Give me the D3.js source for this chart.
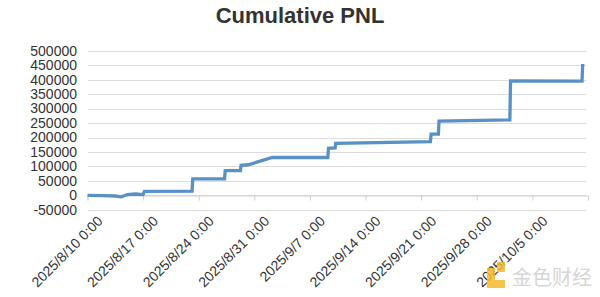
<!DOCTYPE html>
<html>
<head>
<meta charset="utf-8">
<script src="https://cdn.jsdelivr.net/npm/d3@7"></script>
<style>
  body { margin: 0; background: #fff; }
  svg { display: block; font-family: "Liberation Sans", Arial, sans-serif; }
</style>
</head>
<body>
<div class="chart"></div>
<script>
let w = 600;
let h = 297;

// cumulative pnl points
const times = [
  "2025-08-10 00:00", "2025-08-12 00:00", "2025-08-13 12:00", "2025-08-14 06:00",
  "2025-08-15 00:00", "2025-08-16 00:00", "2025-08-17 00:00", "2025-08-17 04:00",
  "2025-08-23 04:00", "2025-08-23 06:00", "2025-08-27 06:00", "2025-08-27 08:00",
  "2025-08-29 06:00", "2025-08-29 08:00", "2025-08-30 06:00", "2025-09-02 06:00",
  "2025-09-09 06:00", "2025-09-09 08:00", "2025-09-10 04:00", "2025-09-10 06:00",
  "2025-09-22 04:00", "2025-09-22 06:00", "2025-09-23 04:00", "2025-09-23 06:00",
  "2025-10-02 04:00", "2025-10-02 06:00", "2025-10-11 06:00", "2025-10-11 08:00"
];
const pnl = [
  0, -500, -2000, -5000,
  3000, 5000, 3000, 14000,
  15000, 57000, 57000, 86000,
  86000, 104000, 106000, 131000,
  131000, 163000, 164000, 180000,
  186000, 212000, 212000, 257000,
  261000, 396000, 395000, 454000
];
const yTicks = [-50000, 0, 50000, 100000, 150000, 200000, 250000, 300000, 350000, 400000, 450000, 500000];
const xTicks = ["2025-08-10", "2025-08-17", "2025-08-24", "2025-08-31", "2025-09-07",
                "2025-09-14", "2025-09-21", "2025-09-28", "2025-10-05", "2025-10-12"];
const xLabels = ["2025/8/10 0:00", "2025/8/17 0:00", "2025/8/24 0:00", "2025/8/31 0:00", "2025/9/7 0:00",
                 "2025/9/14 0:00", "2025/9/21 0:00", "2025/9/28 0:00", "2025/10/5 0:00", ""];

let parse = d3.timeParse("%Y-%m-%d %H:%M");
let parseDay = d3.timeParse("%Y-%m-%d");
let data = times.map((t, i) => ({ t: parse(t), v: pnl[i] }));
let tickDates = xTicks.map(parseDay);

const svg = d3.select(".chart")
              .append("svg")
              .attr("width", w)
              .attr("height", h)

const xScale = d3.scaleTime()
                 .domain([tickDates[0], tickDates[tickDates.length - 1]])
                 .range([87.5, 588])

const yScale = d3.scaleLinear()
                 .domain([-50000, 500000])
                 .range([209.9, 50.7])

// gridlines
svg.append("g")
   .selectAll("line")
   .data(yTicks)
   .enter()
   .append("line")
   .attr("x1", 88)
   .attr("x2", 586)
   .attr("y1", (d) => Math.round(yScale(d)) + 0.5)
   .attr("y2", (d) => Math.round(yScale(d)) + 0.5)
   .style("stroke", "#dcdcdc")
   .style("stroke-width", 1)

// y labels
svg.append("g")
   .selectAll("text")
   .data(yTicks)
   .enter()
   .append("text")
   .attr("x", 77)
   .attr("y", (d) => yScale(d))
   .attr("dy", "0.35em")
   .attr("text-anchor", "end")
   .style("font-size", "14px")
   .style("fill", "#333")
   .text((d) => d)

// x axis at zero
const xAxis = d3.axisBottom(xScale)
                .tickValues(tickDates)
                .tickSize(5)
                .tickFormat("")

const gx = svg.append("g")
   .attr("transform", "translate(0," + (Math.round(yScale(0)) + 0.5) + ")")
   .call(xAxis)
gx.select(".domain").style("stroke", "#d0d0d0")
gx.selectAll(".tick line").style("stroke", "#d0d0d0")

svg.append("g")
   .selectAll("text")
   .data(tickDates)
   .enter()
   .append("text")
   .attr("transform", (d) => "translate(" + (xScale(d) + 16) + ",222) rotate(-45)")
   .attr("text-anchor", "end")
   .style("font-size", "14px")
   .style("fill", "#333")
   .text((d, i) => xLabels[i])

// pnl line
const line = d3.line()
               .x((d) => xScale(d.t))
               .y((d) => yScale(d.v))

svg.append("path")
   .datum(data)
   .attr("d", line)
   .style("fill", "none")
   .style("stroke", "#5791c6")
   .style("stroke-width", 3.3)
   .style("stroke-linejoin", "miter")

// title
svg.append("text")
   .attr("x", 300)
   .attr("y", 23)
   .attr("text-anchor", "middle")
   .style("font-size", "22px")
   .style("font-weight", "bold")
   .style("fill", "#333")
   .text("Cumulative PNL")

// watermark
const wm = svg.append("g").style("opacity", 0.85)
wm.append("path")
  .attr("d", "M487,268 h8 v12 h10 v8 h-18 z M497,262 h8 v10 h-8 z")
  .style("fill", "#f5b82e")
wm.append("text")
  .attr("x", 512)
  .attr("y", 285)
  .style("font-family", "'Noto Sans CJK SC', sans-serif")
  .style("font-size", "20px")
  .style("fill", "#cfcfcf")
  .text("金色财经")
</script>
</body>
</html>
